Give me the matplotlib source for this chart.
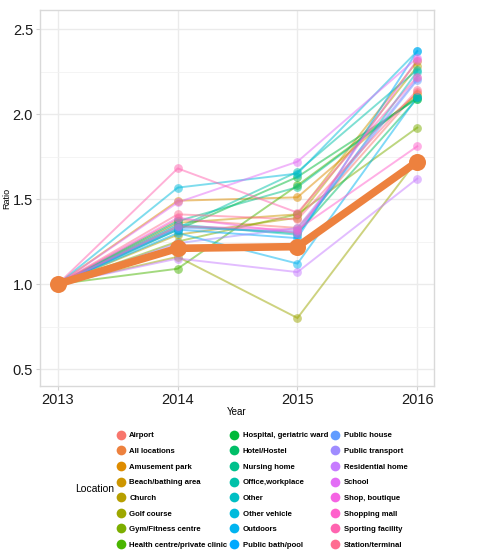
import numpy as np
import matplotlib
matplotlib.use("Agg")
import matplotlib.pyplot as plt
from matplotlib.lines import Line2D

years = [2013, 2014, 2015, 2016]
locations = ["Airport", "All locations", "Amusement park", "Beach/bathing area", "Church",
             "Golf course", "Gym/Fitness centre", "Health centre/private clinic",
             "Hospital, geriatric ward", "Hotel/Hostel", "Nursing home", "Office,workplace",
             "Other", "Other vehicle", "Outdoors", "Public bath/pool", "Public house",
             "Public transport", "Residential home", "School", "Shop, boutique",
             "Shopping mall", "Sporting facility", "Station/terminal"]

airport = [1.0, 1.38, 1.33, 2.13]
all_locations = [1.0, 1.21, 1.22, 1.72]
amusement_park = [1.0, 1.49, 1.51, 2.12]
beach = [1.0, 1.36, 1.41, 2.31]
church = [1.0, 1.29, 1.39, 2.28]
golf_course = [1.0, 1.16, 0.80, 1.73]
gym = [1.0, 1.25, 1.41, 1.92]
health_centre = [1.0, 1.09, 1.58, 2.10]
hospital = [1.0, 1.32, 1.63, 2.09]
hotel = [1.0, 1.34, 1.30, 2.09]
nursing_home = [1.0, 1.37, 1.57, 2.10]
office = [1.0, 1.33, 1.66, 2.26]
other = [1.0, 1.35, 1.29, 2.25]
other_vehicle = [1.0, 1.567, 1.65, 2.37]
outdoors = [1.0, 1.30, 1.12, 2.10]
public_bath = [1.0, 1.32, 1.27, 2.37]
public_house = [1.0, 1.33, 1.31, 2.20]
public_transport = [1.0, 1.24, 1.33, 2.21]
residential_home = [1.0, 1.15, 1.07, 1.62]
school = [1.0, 1.48, 1.72, 2.33]
shop = [1.0, 1.39, 1.30, 2.32]
shopping_mall = [1.0, 1.34, 1.32, 1.81]
sporting_facility = [1.0, 1.68, 1.42, 2.22]
station = [1.0, 1.41, 1.38, 2.14]

series = [airport, all_locations, amusement_park, beach, church, golf_course, gym,
          health_centre, hospital, hotel, nursing_home, office, other, other_vehicle,
          outdoors, public_bath, public_house, public_transport, residential_home, school,
          shop, shopping_mall, sporting_facility, station]

y_ticks = [0.5, 1.0, 1.5, 2.0, 2.5]


def hcl_to_rgb(h, c, l):
    # polar LUV -> sRGB (as ggplot2 hue_pal)
    hr = np.deg2rad(h)
    U = c * np.cos(hr)
    V = c * np.sin(hr)
    Xn, Yn, Zn = 95.047, 100.0, 108.883
    un = 4 * Xn / (Xn + 15 * Yn + 3 * Zn)
    vn = 9 * Yn / (Xn + 15 * Yn + 3 * Zn)
    Y = Yn * ((l + 16) / 116) ** 3 if l > 8 else Yn * l / 903.3
    u = U / (13 * l) + un
    v = V / (13 * l) + vn
    X = 9.0 * Y * u / (4 * v)
    Z = -X / 3 - 5 * Y + 3 * Y / v
    X, Y, Z = X / 100, Y / 100, Z / 100
    r = 3.2404542 * X - 1.5371385 * Y - 0.4985314 * Z
    g = -0.9692660 * X + 1.8760108 * Y + 0.0415560 * Z
    b = 0.0556434 * X - 0.2040259 * Y + 1.0572252 * Z

    def gam(t):
        t = t * 12.92 if t <= 0.0031308 else 1.055 * t ** (1 / 2.4) - 0.055
        return min(max(t, 0), 1)
    return (gam(r), gam(g), gam(b))


n = len(locations)
colors = [hcl_to_rgb(15 + 360 * i / n, 100, 65) for i in range(n)]

plt.rcParams['font.family'] = ['Liberation Sans', 'DejaVu Sans']
W, H = 485, 557
fig = plt.figure(figsize=(W / 100, H / 100), dpi=100)
ax = fig.add_axes([40 / W, 1 - 386 / H, (434 - 40) / W, (386 - 10) / H])

for i, (name, vals) in enumerate(zip(locations, series)):
    if name == "All locations":
        continue
    ax.plot(years, vals, color=colors[i], lw=1.4, alpha=0.5, zorder=2)
    ax.scatter(years, vals, color=colors[i], s=40, alpha=0.5, lw=0, zorder=3)

i_all = locations.index("All locations")
ax.plot(years, all_locations, color=colors[i_all], lw=5.5, zorder=4, solid_capstyle='round')
ax.scatter(years, all_locations, color=colors[i_all], s=150, lw=0, zorder=5)

ax.set_xlim(2012.85, 2016.14)
ax.set_ylim(0.4, 2.612)
ax.set_xticks(years)
ax.set_xticklabels([str(y) for y in years])
ax.set_yticks(y_ticks)
ax.set_yticklabels([f"{v:.1f}" for v in y_ticks])
ax.set_yticks([0.75, 1.25, 1.75, 2.25], minor=True)
ax.grid(True, which='major', color='#EBEBEB', lw=1.0)
ax.grid(True, which='minor', axis='y', color='#F2F2F2', lw=0.6)
ax.set_axisbelow(True)
for sp in ax.spines.values():
    sp.set_color('#D9D9D9')
    sp.set_linewidth(1.0)
ax.tick_params(axis='both', which='major', labelsize=10.5, color='#D0D0D0', length=3,
               labelcolor='#1A1A1A', pad=2)
ax.tick_params(axis='both', which='minor', length=0)
ax.set_xlabel("Year", fontsize=7, labelpad=0)
fig.text(7 / W, 1 - 198 / H, "Ratio", fontsize=6.5, rotation=90, ha='center', va='center')

handles = [Line2D([], [], marker='o', ls='none', markersize=7, markerfacecolor=colors[i],
                  markeredgewidth=0) for i in range(n)]
fig.legend(handles, locations, ncol=3, loc='upper left', bbox_to_anchor=(116 / W, 1 - 432 / H),
           frameon=False, prop={'size': 5.6, 'weight': 'bold'}, handletextpad=0.5,
           columnspacing=0.3, labelspacing=1.05, handlelength=1.2, borderpad=0,
           borderaxespad=0)
fig.text(75 / W, 1 - 489 / H, "Location", fontsize=7.5, ha='left', va='center')

fig.savefig("out.png", dpi=100)
